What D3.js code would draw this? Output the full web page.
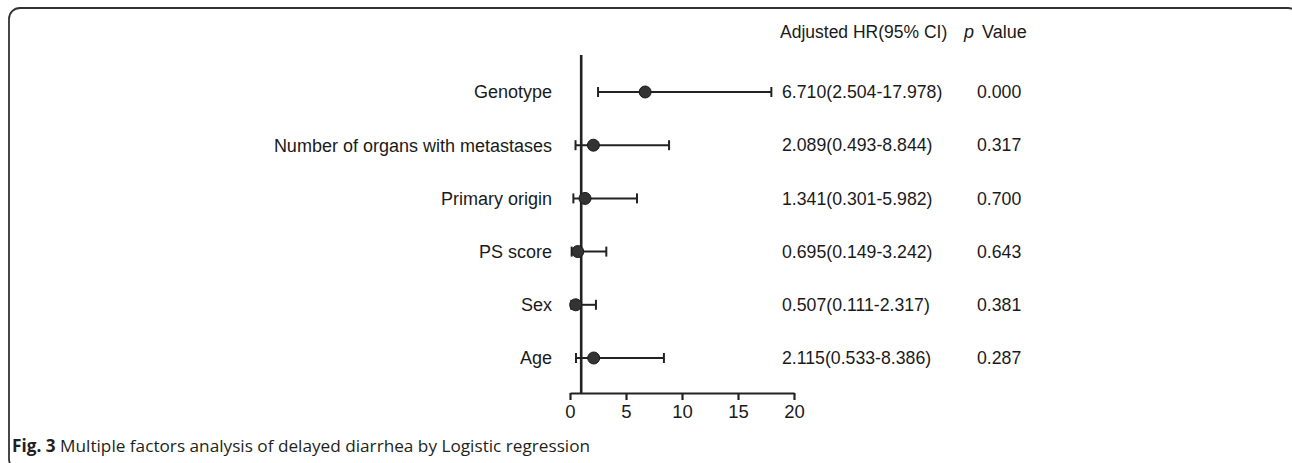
<!DOCTYPE html>
<html>
<head>
<meta charset="utf-8">
<script src="https://cdn.jsdelivr.net/npm/d3@7"></script>
<style>
  html, body { margin: 0; padding: 0; background: #fff; }
  svg { display: block; }
</style>
</head>
<body>
<svg id="chart" width="1292" height="463"></svg>
<script>
// Multivariate logistic regression: adjusted HR with 95% CI per factor
const factors = ["Genotype", "Number of organs with metastases", "Primary origin", "PS score", "Sex", "Age"];
const hr      = [6.710, 2.089, 1.341, 0.695, 0.507, 2.115];
const ciLow   = [2.504, 0.493, 0.301, 0.149, 0.111, 0.533];
const ciHigh  = [17.978, 8.844, 5.982, 3.242, 2.317, 8.386];
const pValues = ["0.000", "0.317", "0.700", "0.643", "0.381", "0.287"];
const xTicks  = [0, 5, 10, 15, 20];

const svg = d3.select("#chart");
const ink = "#222";
const font = "'Liberation Sans', Arial, sans-serif";

// Figure frame with rounded corners
svg.append("rect")
  .attr("x", 9).attr("y", 8)
  .attr("width", 1290).attr("height", 462)
  .attr("rx", 11).attr("ry", 11)
  .attr("fill", "none").attr("stroke", "#333").attr("stroke-width", 1.8);

const x = d3.scaleLinear().domain([0, 20]).range([570, 794]);
const y = d3.scalePoint().domain(factors).range([92, 358]);
const axisY = 393;

// Bottom axis
const axis = d3.axisBottom(x).tickValues(xTicks).tickSize(7).tickSizeOuter(0).tickPadding(5);
const gAxis = svg.append("g").attr("transform", `translate(0,${axisY})`).call(axis);
gAxis.select(".domain").attr("stroke", ink).attr("stroke-width", 2.2);
gAxis.selectAll(".tick line").attr("stroke", ink).attr("stroke-width", 2.2);
gAxis.selectAll(".tick text")
  .attr("fill", "#1a1a1a").attr("font-family", font).attr("font-size", 18.5);

// Reference line at HR = 1
svg.append("line")
  .attr("x1", x(1)).attr("x2", x(1))
  .attr("y1", 55).attr("y2", axisY)
  .attr("stroke", ink).attr("stroke-width", 2.6);

const rows = svg.append("g").selectAll("g")
  .data(factors.map((f, i) => ({ f, hr: hr[i], lo: ciLow[i], hi: ciHigh[i], p: pValues[i] })))
  .join("g")
  .attr("transform", d => `translate(0,${y(d.f)})`);

// Confidence interval whiskers with end caps
rows.append("line")
  .attr("x1", d => x(d.lo)).attr("x2", d => x(d.hi))
  .attr("stroke", ink).attr("stroke-width", 2);
rows.append("line")
  .attr("x1", d => x(d.lo)).attr("x2", d => x(d.lo))
  .attr("y1", -5).attr("y2", 5)
  .attr("stroke", ink).attr("stroke-width", 2);
rows.append("line")
  .attr("x1", d => x(d.hi)).attr("x2", d => x(d.hi))
  .attr("y1", -5).attr("y2", 5)
  .attr("stroke", ink).attr("stroke-width", 2);

// Point estimate
rows.append("circle")
  .attr("cx", d => x(d.hr)).attr("r", 6)
  .attr("fill", "#333").attr("stroke", "#1a1a1a").attr("stroke-width", 1);

// Factor names
rows.append("text")
  .attr("x", 552).attr("dy", "0.35em")
  .attr("text-anchor", "end")
  .attr("font-family", font).attr("font-size", 18).attr("fill", "#1a1a1a")
  .text(d => d.f);

// HR (95% CI) column
rows.append("text")
  .attr("x", 782).attr("dy", "0.35em")
  .attr("font-family", font).attr("font-size", 17.7).attr("fill", "#1a1a1a")
  .text(d => `${d.hr.toFixed(3)}(${d.lo.toFixed(3)}-${d.hi.toFixed(3)})`);

// p value column
rows.append("text")
  .attr("x", 977).attr("dy", "0.35em")
  .attr("font-family", font).attr("font-size", 17.7).attr("fill", "#1a1a1a")
  .text(d => d.p);

// Column headers
svg.append("text")
  .attr("x", 780).attr("y", 32).attr("dy", "0.35em")
  .attr("font-family", font).attr("font-size", 17.5).attr("fill", "#1a1a1a")
  .text("Adjusted HR(95% CI)");
const pHead = svg.append("text")
  .attr("y", 32).attr("dy", "0.35em")
  .attr("font-family", font).attr("font-size", 18).attr("fill", "#1a1a1a");
pHead.append("tspan").attr("x", 964).attr("font-style", "italic").text("p");
pHead.append("tspan").attr("x", 982).text("Value");

// Caption
const cap = svg.append("text")
  .attr("x", 12).attr("y", 452)
  .attr("font-family", "'Open Sans', sans-serif").attr("font-size", 17.2).attr("fill", "#231f20");
cap.append("tspan").attr("font-weight", "bold").text("Fig. 3");
cap.append("tspan").text(" Multiple factors analysis of delayed diarrhea by Logistic regression");
</script>
</body>
</html>
